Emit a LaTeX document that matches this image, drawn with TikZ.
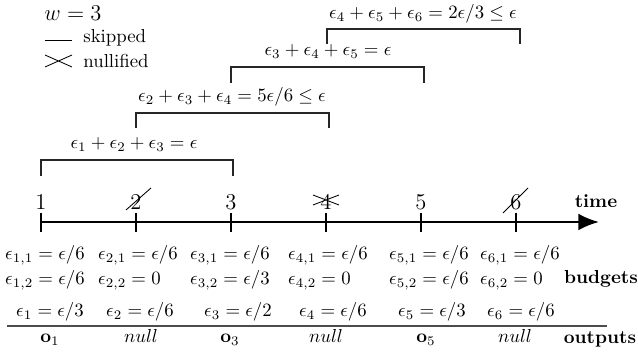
\documentclass[tikz,border=0pt]{standalone}
\usepackage{amsmath}
\usepackage{amssymb}
\usetikzlibrary{positioning,arrows.meta,calc}
\definecolor{ink}{HTML}{000000}
\tikzset{
  every node/.style={inner sep=0pt},
  % --- nodes
  tlbl/.style  = {anchor=base, font=\large},
  hdr/.style   = {anchor=base, font=\bfseries},
  sumlbl/.style= {anchor=base},
  bud/.style   = {anchor=base},
  budb/.style  = {anchor=base west},
  leg/.style   = {anchor=west},
  % --- lines
  axis/.style  = {line width=1.3pt, draw=ink, -{Latex[length=11pt,width=9pt]}},
  tck/.style   = {line width=1.3pt, draw=ink},
  brk/.style   = {line width=0.6pt, draw=ink!85},
  strk/.style  = {line width=0.45pt, draw=ink},
  hline/.style = {line width=0.7pt, draw=ink!70},
}

\begin{document}
\begin{tikzpicture}[x=0.532pt,y=-0.532pt]
  \useasboundingbox (0,0) rectangle (638,354);

  % legend
  \node[leg, font=\large] (win) at (44,13) {$w = 3$};
  \coordinate (sk0) at (45,40); \coordinate (sk1) at (72,40);
  \draw[strk] (sk0) -- (sk1);
  \node[leg] (skp) at (83,38) {skipped};
  \coordinate (nu0) at (45,55); \coordinate (nu1) at (72,67);
  \draw[strk] (nu0) -- (nu1) (nu0 |- nu1) -- (nu1 |- nu0);
  \node[leg] (nul) at (83,61) {nullified};

  % time axis
  \foreach \i in {1,...,6}
    \coordinate (t\i) at ({41+95*(\i-1)},222);
  \coordinate (tend) at (599,222);
  \draw[axis] (t1) -- (tend);
  \foreach \i in {1,...,6} {
    \draw[tck] ($(t\i)+(0,-9)$) -- ($(t\i)+(0,10)$);
    \node[tlbl] (n\i) at ($(t\i)+(0,-12)$) {\i};
  }
  \node[hdr] (time) at (596,208) {time};

  % skipped (2, 6) and nullified (4)
  \draw[strk] ($(n2.base)+(-10,0)$) -- ($(n2.base)+(15,-22)$);
  \draw[strk] ($(n6.base)+(-13,3)$) -- ($(n6.base)+(12,-22)$);
  \draw[strk] ($(n4.base)+(-13,-15)$) -- ($(n4.base)+(13,-5)$)
              ($(n4.base)+(-13,-5)$) -- ($(n4.base)+(13,-15)$);

  % sliding windows
  \draw[brk] (41,176) |- (233,160) -- (233,176);
  \node[sumlbl] (s1) at (134,149) {$\epsilon_1+\epsilon_2+\epsilon_3=\epsilon$};
  \draw[brk] (136,128) |- (329,113) -- (329,128);
  \node[sumlbl] (s2) at (232,102) {$\epsilon_2+\epsilon_3+\epsilon_4=5\epsilon/6\leq\epsilon$};
  \draw[brk] (231,83) |- (424,67) -- (424,83);
  \node[sumlbl] (s3) at (328,56) {$\epsilon_3+\epsilon_4+\epsilon_5=\epsilon$};
  \draw[brk] (327,44) |- (520,29) -- (520,44);
  \node[sumlbl] (s4) at (423,19) {$\epsilon_4+\epsilon_5+\epsilon_6=2\epsilon/3\leq\epsilon$};

  % budgets
  \node[bud] (e11) at (45,260) {$\epsilon_{1,1}=\epsilon/6$};
  \node[budb] (e12) at ($(e11.base west)+(0,25)$) {$\epsilon_{1,2}=\epsilon/6$};
  \node[bud] (e21) at (138,260) {$\epsilon_{2,1}=\epsilon/6$};
  \node[budb] (e22) at ($(e21.base west)+(0,25)$) {$\epsilon_{2,2}=0$};
  \node[bud] (e31) at (230,260) {$\epsilon_{3,1}=\epsilon/6$};
  \node[budb] (e32) at ($(e31.base west)+(0,25)$) {$\epsilon_{3,2}=\epsilon/3$};
  \node[bud] (e41) at (328,260) {$\epsilon_{4,1}=\epsilon/6$};
  \node[budb] (e42) at ($(e41.base west)+(0,25)$) {$\epsilon_{4,2}=0$};
  \node[bud] (e51) at (429,260) {$\epsilon_{5,1}=\epsilon/6$};
  \node[budb] (e52) at ($(e51.base west)+(0,25)$) {$\epsilon_{5,2}=\epsilon/6$};
  \node[bud] (e61) at (520,260) {$\epsilon_{6,1}=\epsilon/6$};
  \node[budb] (e62) at ($(e61.base west)+(0,25)$) {$\epsilon_{6,2}=0$};
  \node[hdr] (bud) at (601,284) {budgets};

  % totals
  \node[bud] (e1) at (50,317) {$\epsilon_1=\epsilon/3$};
  \node[bud] (e2) at (140,317) {$\epsilon_2=\epsilon/6$};
  \node[bud] (e3) at (238,317) {$\epsilon_3=\epsilon/2$};
  \node[bud] (e4) at (333,317) {$\epsilon_4=\epsilon/6$};
  \node[bud] (e5) at (432,317) {$\epsilon_5=\epsilon/3$};
  \node[bud] (e6) at (521,317) {$\epsilon_6=\epsilon/6$};
  \coordinate (r0) at (7,326); \coordinate (r1) at (607,326);
  \draw[hline] (r0) -- (r1);

  % outputs
  \node[bud] (o1) at (50,343) {$\mathbf{o}_1$};
  \node[bud] (o2) at (141,343) {$null$};
  \node[bud] (o3) at (230,343) {$\mathbf{o}_3$};
  \node[bud] (o4) at (326,343) {$null$};
  \node[bud] (o5) at (426,343) {$\mathbf{o}_5$};
  \node[bud] (o6) at (515,343) {$null$};
  \node[hdr] (out) at (600,344) {outputs};
\end{tikzpicture}
\end{document}
